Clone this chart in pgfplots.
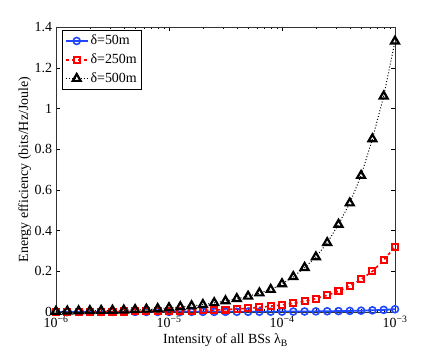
\documentclass[border=0pt]{standalone}
\usepackage{fontspec}
\setmainfont{Liberation Serif}
\usepackage{pgfplots}
\pgfplotsset{compat=1.18}
\definecolor{mblue}{rgb}{0.12,0.28,1.0}
\definecolor{mred}{rgb}{1.0,0.0,0.0}
\begin{document}
\fontsize{14}{16}\selectfont
\begin{tikzpicture}
\useasboundingbox (-56bp,-41bp) rectangle (380bp,312bp);
\begin{axis}[
  at={(0,0)}, anchor=south west,
  scale only axis, width=339bp, height=285bp,
  xmode=log, xmin=1e-6, xmax=1e-3,
  ymin=0, ymax=1.4,
  ytick={0,0.2,0.4,0.6,0.8,1,1.2,1.4},
  yticklabels={0,0.2,0.4,0.6,0.8,1,1.2,1.4},
  xtick={1e-6,1e-5,1e-4,1e-3},
  xticklabels={10\textsuperscript{−6},10\textsuperscript{−5},10\textsuperscript{−4},10\textsuperscript{−3}},
  tick align=inside,
  major tick length=4bp, minor tick length=2.5bp,
  tick style={black, thin},
  axis line style={black!80, thin},
  ticklabel style={font=\fontsize{14}{16}\selectfont},
  yticklabel style={xshift=1bp},
  xticklabel style={yshift=1bp},
  xlabel={Intensity of all BSs λ\textsubscript{B}},
  ylabel={Energy efficiency (bits/Hz/Joule)},
  label style={font=\fontsize{14}{16}\selectfont},
  xlabel style={yshift=3bp},
  ylabel style={yshift=-6bp},
  legend style={at={(0.018,0.99)}, anchor=north west, draw=black, fill=white,
    font=\fontsize{14}{16}\selectfont, inner xsep=2.5bp, inner ysep=3bp, row sep=3bp,
    legend cell align=left},
  legend image code/.code={
    \draw[mark repeat=2,mark phase=2,#1]
      plot coordinates {(0bp,0bp) (11bp,0bp) (22bp,0bp)};
  },
]
\addplot[color=mblue, solid, line width=1.8pt, mark=o, mark size=3.5pt,
  mark options={solid, line width=1.6pt}] table {
x y
1.0000e-06 0.0005
1.2589e-06 0.0005
1.5849e-06 0.0005
1.9953e-06 0.0005
2.5119e-06 0.0005
3.1623e-06 0.0005
3.9811e-06 0.0005
5.0119e-06 0.0005
6.3096e-06 0.0005
7.9433e-06 0.0006
1.0000e-05 0.0006
1.2589e-05 0.0007
1.5849e-05 0.0007
1.9953e-05 0.0008
2.5119e-05 0.0009
3.1623e-05 0.0010
3.9811e-05 0.0011
5.0119e-05 0.0012
6.3096e-05 0.0014
7.9433e-05 0.0016
1.0000e-04 0.0018
1.2589e-04 0.0021
1.5849e-04 0.0025
1.9953e-04 0.0030
2.5119e-04 0.0036
3.1623e-04 0.0044
3.9811e-04 0.0054
5.0119e-04 0.0066
6.3096e-04 0.0082
7.9433e-04 0.0105
1.0000e-03 0.0135
};
\addlegendentry{δ=50m}
\addplot[color=mred, dashed, line width=1.6pt, mark=square, mark size=3.0pt,
  mark options={solid, line width=2.1pt}] table {
x y
1.0000e-06 0.0010
1.2589e-06 0.0011
1.5849e-06 0.0013
1.9953e-06 0.0015
2.5119e-06 0.0017
3.1623e-06 0.0020
3.9811e-06 0.0023
5.0119e-06 0.0027
6.3096e-06 0.0032
7.9433e-06 0.0038
1.0000e-05 0.0046
1.2589e-05 0.0055
1.5849e-05 0.0066
1.9953e-05 0.0080
2.5119e-05 0.0098
3.1623e-05 0.0120
3.9811e-05 0.0148
5.0119e-05 0.0182
6.3096e-05 0.0228
7.9433e-05 0.0288
1.0000e-04 0.0350
1.2589e-04 0.0430
1.5849e-04 0.0530
1.9953e-04 0.0660
2.5119e-04 0.0820
3.1623e-04 0.1020
3.9811e-04 0.1280
5.0119e-04 0.1600
6.3096e-04 0.2000
7.9433e-04 0.2550
1.0000e-03 0.3200
};
\addlegendentry{δ=250m}
\addplot[color=black, dotted, line width=1.0pt, mark=triangle, mark size=4.6pt,
  mark options={solid, line width=2.2pt}] table {
x y
1.0000e-06 0.0030
1.2589e-06 0.0040
1.5849e-06 0.0050
1.9953e-06 0.0060
2.5119e-06 0.0070
3.1623e-06 0.0080
3.9811e-06 0.0090
5.0119e-06 0.0110
6.3096e-06 0.0130
7.9433e-06 0.0160
1.0000e-05 0.0200
1.2589e-05 0.0250
1.5849e-05 0.0300
1.9953e-05 0.0360
2.5119e-05 0.0450
3.1623e-05 0.0540
3.9811e-05 0.0650
5.0119e-05 0.0770
6.3096e-05 0.0930
7.9433e-05 0.1100
1.0000e-04 0.1380
1.2589e-04 0.1730
1.5849e-04 0.2180
1.9953e-04 0.2700
2.5119e-04 0.3400
3.1623e-04 0.4300
3.9811e-04 0.5350
5.0119e-04 0.6700
6.3096e-04 0.8500
7.9433e-04 1.0600
1.0000e-03 1.3300
};
\addlegendentry{δ=500m}
\end{axis}
\end{tikzpicture}
\end{document}
